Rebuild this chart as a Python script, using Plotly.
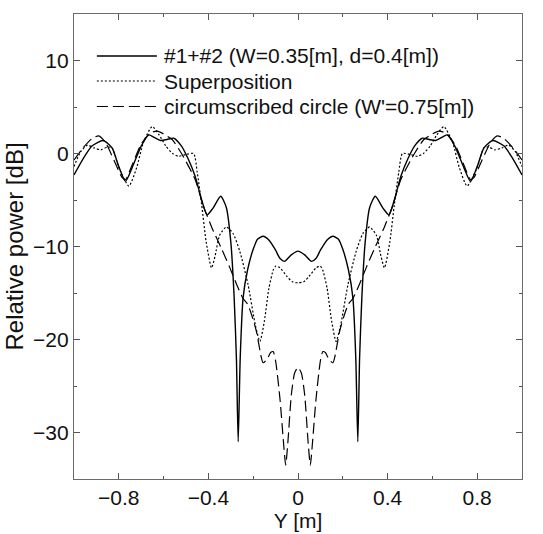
import plotly.graph_objects as go

# ---------------- data ----------------
series_names = ["#1+#2 (W=0.35[m], d=0.4[m])",
                "Superposition",
                "circumscribed circle (W'=0.75[m])"]

# #1+#2 (solid)
x_solid = [-1.00, -0.96, -0.92, -0.87, -0.83, -0.80, -0.77, -0.74, -0.70, -0.666,
           -0.64, -0.614, -0.585, -0.555, -0.52, -0.49, -0.46, -0.43, -0.406, -0.38,
           -0.345, -0.32, -0.30, -0.285, -0.275, -0.267, -0.258, -0.245, -0.225, -0.20,
           -0.18, -0.156, -0.13, -0.10, -0.08, -0.06, -0.03, 0.0,
           0.03, 0.06, 0.08, 0.10, 0.13, 0.156, 0.18, 0.20, 0.225, 0.245,
           0.258, 0.267, 0.275, 0.285, 0.30, 0.32, 0.345, 0.38, 0.406, 0.43,
           0.46, 0.49, 0.52, 0.555, 0.585, 0.614, 0.64, 0.666, 0.70, 0.74,
           0.77, 0.80, 0.83, 0.87, 0.92, 0.96, 1.00]
y_solid = [-2.3, -0.6, 0.8, 1.4, 0.6, -1.4, -3.0, -1.5, 0.8, 2.0,
           1.7, 1.4, 1.5, 1.65, 0.8, -0.6, -2.4, -5.0, -6.6, -5.9,
           -4.6, -5.8, -9.5, -15.5, -22.0, -31.0, -22.0, -15.5, -12.5, -10.3,
           -9.2, -8.9, -9.3, -10.4, -11.3, -11.6, -10.9, -10.5,
           -10.9, -11.6, -11.3, -10.4, -9.3, -8.9, -9.2, -10.3, -12.5, -15.5,
           -22.0, -31.0, -22.0, -15.5, -9.5, -5.8, -4.6, -5.9, -6.6, -5.0,
           -2.4, -0.6, 0.8, 1.65, 1.5, 1.4, 1.7, 2.0, 0.8, -1.5,
           -3.0, -1.4, 0.6, 1.4, 0.8, -0.6, -2.3]

# Superposition (dotted)
x_sup = [-1.00, -0.97, -0.94, -0.91, -0.88, -0.85, -0.83, -0.80, -0.755, -0.72,
         -0.69, -0.651, -0.62, -0.59, -0.56, -0.533, -0.50, -0.466, -0.45, -0.43,
         -0.41, -0.386, -0.37, -0.35, -0.32, -0.29, -0.26, -0.223, -0.19, -0.17,
         -0.15, -0.13, -0.11, -0.099, -0.08, -0.05, -0.025, 0.0,
         0.025, 0.05, 0.08, 0.099, 0.11, 0.13, 0.15, 0.17, 0.19, 0.223,
         0.26, 0.29, 0.32, 0.35, 0.37, 0.386, 0.41, 0.43, 0.45, 0.466,
         0.50, 0.533, 0.56, 0.59, 0.62, 0.651, 0.69, 0.72, 0.755, 0.80,
         0.83, 0.85, 0.88, 0.91, 0.94, 0.97, 1.00]
y_sup = [-1.4, 0.2, 0.9, 0.6, 0.4, 0.7, 0.6, -1.5, -3.5, -1.5,
         1.2, 2.9, 2.0, 0.8, 0.0, -0.3, -0.1, 0.0, -2.0, -5.5,
         -9.5, -12.3, -11.0, -8.8, -7.9, -8.6, -10.5, -14.1, -18.5, -20.2,
         -18.0, -14.5, -12.5, -12.1, -12.3, -13.2, -13.8, -13.9,
         -13.8, -13.2, -12.3, -12.1, -12.5, -14.5, -18.0, -20.2, -18.5, -14.1,
         -10.5, -8.6, -7.9, -8.8, -11.0, -12.3, -9.5, -5.5, -2.0, 0.0,
         -0.1, -0.3, 0.0, 0.8, 2.0, 2.9, 1.2, -1.5, -3.5, -1.5,
         0.6, 0.7, 0.4, 0.6, 0.9, 0.2, -1.4]

# circumscribed circle (dashed)
x_circ = [-1.00, -0.96, -0.92, -0.889, -0.86, -0.82, -0.785, -0.77, -0.74, -0.70,
          -0.66, -0.629, -0.60, -0.562, -0.52, -0.459, -0.423, -0.384, -0.34, -0.304,
          -0.27, -0.245, -0.225, -0.205, -0.185, -0.165, -0.156, -0.14, -0.122, -0.111,
          -0.10, -0.08, -0.065, -0.055, -0.045, -0.03, -0.015, 0.0,
          0.015, 0.03, 0.045, 0.055, 0.065, 0.08, 0.10, 0.111, 0.122, 0.14,
          0.156, 0.165, 0.185, 0.205, 0.225, 0.245, 0.27, 0.304, 0.34, 0.384,
          0.423, 0.459, 0.52, 0.562, 0.60, 0.629, 0.66, 0.70, 0.74, 0.77,
          0.785, 0.82, 0.86, 0.889, 0.92, 0.96, 1.00]
y_circ = [-0.7, 0.6, 1.6, 1.9, 1.2, -0.8, -2.6, -2.8, -1.2, 1.0,
          2.2, 2.4, 2.1, 1.5, 0.0, -2.8, -5.6, -8.0, -10.3, -12.3,
          -14.3, -15.6, -16.2, -17.5, -19.2, -21.8, -22.5, -22.2, -21.4, -21.3,
          -22.3, -26.5, -31.0, -33.5, -31.0, -26.0, -23.6, -23.0,
          -23.6, -26.0, -31.0, -33.5, -31.0, -26.5, -22.3, -21.3, -21.4, -22.2,
          -22.5, -21.8, -19.2, -17.5, -16.2, -15.6, -14.3, -12.3, -10.3, -8.0,
          -5.6, -2.8, 0.0, 1.5, 2.1, 2.4, 2.2, 1.0, -1.2, -2.8,
          -2.6, -0.8, 1.2, 1.9, 1.6, 0.6, -0.7]

x_ticks = [-0.8, -0.4, 0, 0.4, 0.8]
x_tick_labels = ["−0.8", "−0.4", "0", "0.4", "0.8"]
y_ticks = [-30, -20, -10, 0, 10]
y_tick_labels = ["−30", "−20", "−10", "0", "10"]

# ---------------- figure ----------------
FONT = "Arial, Liberation Sans, Helvetica, sans-serif"
styles = [dict(color="black", width=1.4, dash="solid"),
          dict(color="black", width=1.2, dash="2px,2px"),
          dict(color="black", width=1.2, dash="11px,5px")]
xs = [x_solid, x_sup, x_circ]
ys = [y_solid, y_sup, y_circ]

fig = go.Figure()
for name, xv, yv, st in zip(series_names, xs, ys, styles):
    fig.add_trace(go.Scatter(x=xv, y=yv, mode="lines", name=name,
                             line=dict(shape="spline", smoothing=0.6, **st),
                             showlegend=False))

# custom legend (long line samples like the reference)
legend_rows = [0.9097, 0.8559, 0.8011]
for name, st, ry in zip(series_names, styles, legend_rows):
    fig.add_shape(type="line", xref="paper", yref="paper",
                  x0=0.051, x1=0.185, y0=ry, y1=ry,
                  line=dict(color="black", width=st["width"], dash=st["dash"]))
    fig.add_annotation(xref="paper", yref="paper", x=0.198, y=ry,
                       text=name, showarrow=False, xanchor="left", yanchor="middle",
                       borderpad=0,
                       font=dict(family=FONT, size=21, color="#111"))

axis_common = dict(showgrid=False, zeroline=False, showline=True,
                   linecolor="#6a6a6a", linewidth=1.2, mirror="ticks",
                   ticks="inside", tickcolor="#555", tickwidth=1.1, ticklen=6,
                   tickfont=dict(family=FONT, size=21, color="#111"))

fig.update_xaxes(range=[-1, 1], tickvals=x_ticks, ticktext=x_tick_labels,
                 minor=dict(ticks="inside", dtick=0.2, tick0=0, ticklen=3,
                            tickcolor="#555", tickwidth=1.1),
                 title=dict(text="Y [m]", font=dict(family=FONT, size=21, color="#111"),
                            standoff=4),
                 **axis_common)
fig.update_yaxes(range=[-35, 15], tickvals=y_ticks, ticktext=y_tick_labels,
                 minor=dict(ticks="inside", dtick=5, tick0=0, ticklen=3,
                            tickcolor="#555", tickwidth=1.1),
                 title=dict(text="Relative power [dB]",
                            font=dict(family=FONT, size=24, color="#111"),
                            standoff=2),
                 **axis_common)

fig.update_layout(width=543, height=534,
                  margin=dict(l=74, r=21, t=14, b=55, autoexpand=False),
                  plot_bgcolor="white", paper_bgcolor="white",
                  showlegend=False)

fig.write_html("out.html")
